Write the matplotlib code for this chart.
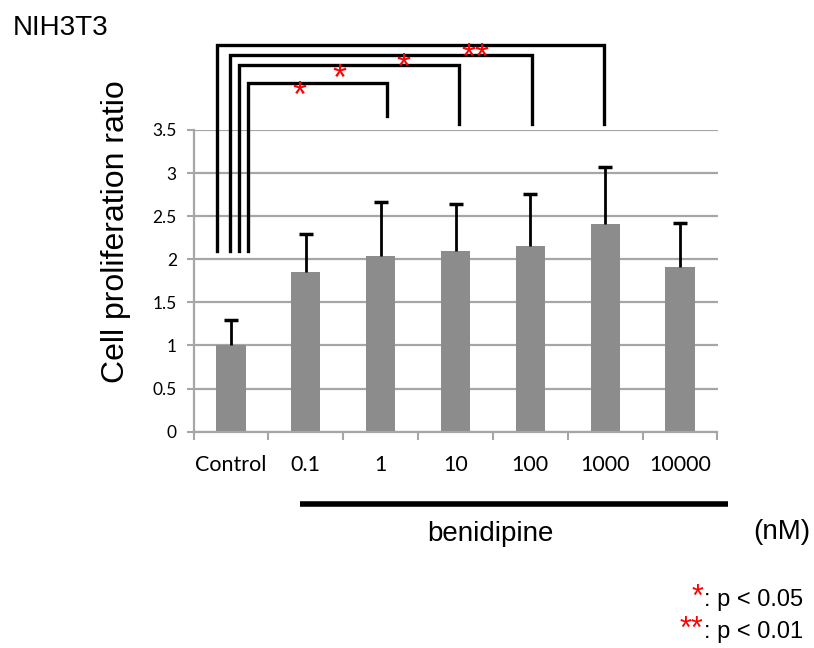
import numpy as np
import matplotlib.pyplot as plt
from matplotlib.ticker import FuncFormatter

categories = ['Control', '0.1', '1', '10', '100', '1000', '10000']
ratio = [1.00, 1.85, 2.04, 2.10, 2.16, 2.41, 1.91]
sd = [0.30, 0.44, 0.62, 0.54, 0.60, 0.66, 0.51]

# significance brackets: Control vs. these doses
pairs = [2, 3, 4, 5]
sig = ['*', '*', '*', '**']

grey = '#a6a6a6'
bar_grey = '#8c8c8c'

fig = plt.figure(figsize=(8.14, 6.48), dpi=100)
ax = fig.add_axes([193.5 / 814, 1 - 431.7 / 648, 524 / 814, 301.7 / 648])

x = np.arange(len(categories))
ax.bar(x, ratio, width=0.39, color=bar_grey, zorder=2)
eb = ax.errorbar(x, ratio, yerr=[np.zeros(len(sd)), sd], fmt='none',
                 ecolor='black', elinewidth=2, capsize=5, capthick=2.5, zorder=3)
# only the upper cap is shown
eb[1][0].set_visible(False)

ax.set_xlim(-0.5, len(categories) - 0.5)
ax.set_ylim(0, 3.5)
ax.set_yticks(np.arange(0, 3.51, 0.5))
ax.yaxis.set_major_formatter(FuncFormatter(lambda v, p: '%g' % v))
ax.yaxis.grid(True, color=grey, lw=1.6)
ax.set_axisbelow(True)

ax.set_xticks(x)
ax.set_xticklabels(categories, family='Lato', fontsize=15.5)
ax.set_xticks(np.arange(-0.5, len(categories)), minor=True)
ax.tick_params(axis='x', which='major', length=0, pad=17)
ax.tick_params(axis='x', which='minor', length=6, width=1.5, color=grey)
ax.tick_params(axis='y', length=5, width=1.5, color=grey, pad=7)
for t in ax.get_yticklabels():
    t.set_family('Lato')
    t.set_fontsize(12.5)

for s in ['top', 'right']:
    ax.spines[s].set_visible(False)
for s in ['left', 'bottom']:
    ax.spines[s].set_color(grey)
    ax.spines[s].set_linewidth(1.6)

# brackets drawn above the plot area
left_x = [0.23, 0.11, -0.01, -0.18]
top_y = [4.05, 4.25, 4.37, 4.49]
right_bottom = [3.66, 3.57, 3.57, 3.57]
star_x = [0.92, 1.45, 2.30, 3.26]
for i, p in enumerate(pairs):
    rx = p + 0.08 - 0.03 * i
    ax.plot([left_x[i], left_x[i], rx, rx], [2.10, top_y[i], top_y[i], right_bottom[i]],
            color='black', lw=2.4, clip_on=False, zorder=4,
            solid_joinstyle='miter')
    ax.text(star_x[i], top_y[i] - 0.17, sig[i], color='red', ha='center',
            va='center', fontsize=26, family='Liberation Sans',
            clip_on=False, zorder=5)

# dose bar under the benidipine groups
ax.plot([0.92, 6.64], [-0.84, -0.84], color='black', lw=4, clip_on=False,
        solid_capstyle='butt')

fig.text(13 / 814, 1 - 28 / 648, 'NIH3T3', family='Liberation Sans',
         fontsize=20, va='center')
fig.text(116 / 814, 1 - 232 / 648, 'Cell proliferation ratio',
         family='Liberation Sans', fontsize=23, rotation=90,
         ha='center', va='center')
fig.text(490 / 814, 1 - 541 / 648, 'benidipine', family='Liberation Sans',
         fontsize=20, ha='center', va='baseline')
fig.text(782 / 814, 1 - 539 / 648, '(nM)', family='Liberation Sans',
         fontsize=20, ha='center', va='baseline')

for yb, st, txt in [(606, '*', ': p < 0.05'), (638, '**', ': p < 0.01')]:
    fig.text(703 / 814, 1 - yb / 648, st, color='red', family='Liberation Sans',
             fontsize=22, ha='right', va='baseline')
    fig.text(704 / 814, 1 - yb / 648, txt, family='Liberation Sans',
             fontsize=17, ha='left', va='baseline')

fig.savefig('out.png', dpi=100)
